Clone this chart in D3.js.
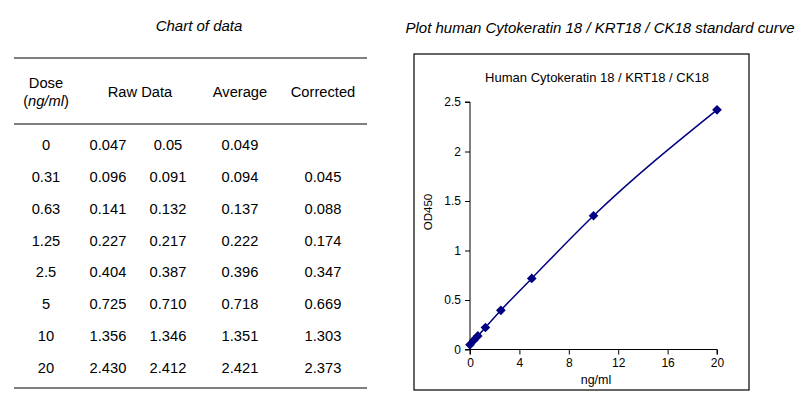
<!DOCTYPE html>
<html>
<head>
<meta charset="utf-8">
<script src="https://cdnjs.cloudflare.com/ajax/libs/d3/7.8.4/d3.min.js"></script>
<style>
  body { margin: 0; background: #fff; }
  svg { font-family: "Liberation Sans", Arial, sans-serif; }
</style>
</head>
<body>
<svg id="chart" width="804" height="407"></svg>
<script>
// Données du tableau
const doses = ["0", "0.31", "0.63", "1.25", "2.5", "5", "10", "20"];
const raw1 = ["0.047", "0.096", "0.141", "0.227", "0.404", "0.725", "1.356", "2.430"];
const raw2 = ["0.05", "0.091", "0.132", "0.217", "0.387", "0.710", "1.346", "2.412"];
const averages = ["0.049", "0.094", "0.137", "0.222", "0.396", "0.718", "1.351", "2.421"];
const corrected = ["", "0.045", "0.088", "0.174", "0.347", "0.669", "1.303", "2.373"];

const xTicks = [0, 4, 8, 12, 16, 20];
const yTicks = [0, 0.5, 1, 1.5, 2, 2.5];

const svg = d3.select("#chart");
const navy = "#000080";

// ---- Tableau ----
svg.append("text")
  .attr("x", 199).attr("y", 31)
  .attr("text-anchor", "middle")
  .attr("font-size", "15px")
  .attr("font-style", "italic")
  .text("Chart of data");

[58, 124, 388].forEach((y) => {
  svg.append("line")
    .attr("x1", 14).attr("x2", 367)
    .attr("y1", y).attr("y2", y)
    .attr("stroke", "#000").attr("stroke-width", 1.2);
});

const head = svg.append("g").attr("font-size", "14.7px").attr("text-anchor", "middle");
head.append("text").attr("x", 46).attr("y", 88).text("Dose");
const unit = head.append("text").attr("x", 46).attr("y", 106);
unit.append("tspan").text("(");
unit.append("tspan").attr("font-style", "italic").text("ng/ml");
unit.append("tspan").text(")");
head.append("text").attr("x", 140).attr("y", 97).text("Raw Data");
head.append("text").attr("x", 240).attr("y", 97).text("Average");
head.append("text").attr("x", 323).attr("y", 97).text("Corrected");

const rowY = d3.scalePoint().domain(doses).range([150, 373]);
const colX = [46, 108, 168, 240, 323];
const cols = [doses, raw1, raw2, averages, corrected];

const body = svg.append("g").attr("font-size", "14.7px").attr("text-anchor", "middle");
cols.forEach((col, c) => {
  body.selectAll(null)
    .data(col)
    .enter()
    .append("text")
    .attr("x", colX[c])
    .attr("y", (d, i) => rowY(doses[i]))
    .text((d) => d);
});

// ---- Graphique ----
svg.append("text")
  .attr("x", 600).attr("y", 33)
  .attr("text-anchor", "middle")
  .attr("font-size", "15px")
  .attr("font-style", "italic")
  .text("Plot human Cytokeratin 18 / KRT18 / CK18 standard curve");

svg.append("rect")
  .attr("x", 414).attr("y", 54)
  .attr("width", 335).attr("height", 336)
  .attr("fill", "none").attr("stroke", "#000").attr("stroke-width", 1.2);

svg.append("text")
  .attr("x", 597).attr("y", 82)
  .attr("text-anchor", "middle")
  .attr("font-size", "13px")
  .text("Human Cytokeratin 18 / KRT18 / CK18");

const xScale = d3.scaleLinear().domain([0, 20]).range([470, 717]);
const yScale = d3.scaleLinear().domain([0, 2.5]).range([349.5, 102]);

svg.append("g")
  .attr("transform", "translate(0,349.5)")
  .call(d3.axisBottom(xScale).tickValues(xTicks).tickSize(5).tickPadding(4).tickFormat(d3.format("")))
  .call((g) => g.selectAll("text").attr("font-size", "12px").attr("fill", "#000"))
  .call((g) => g.select(".domain").attr("d", "M470,5V0H717V5"));

svg.append("g")
  .attr("transform", "translate(470,0)")
  .call(d3.axisLeft(yScale).tickValues(yTicks).tickSize(5).tickPadding(4).tickFormat(d3.format("")))
  .call((g) => g.selectAll("text").attr("font-size", "12px").attr("fill", "#000"))
  .call((g) => g.select(".domain").attr("d", "M-5,102H0V349.5H-5"));

svg.append("text")
  .attr("x", 596).attr("y", 384)
  .attr("text-anchor", "middle")
  .attr("font-size", "12.5px")
  .text("ng/ml");

svg.append("text")
  .attr("transform", "translate(432,212) rotate(-90)")
  .attr("text-anchor", "middle")
  .attr("font-size", "11.5px")
  .text("OD450");

const points = doses.map((d, i) => ({ x: +d, y: +averages[i] }));

const line = d3.line()
  .x((d) => xScale(d.x))
  .y((d) => yScale(d.y))
  .curve(d3.curveMonotoneX);

svg.append("path")
  .datum(points)
  .attr("fill", "none")
  .attr("stroke", navy)
  .attr("stroke-width", 1.5)
  .attr("d", line);

svg.selectAll(".pt")
  .data(points)
  .enter()
  .append("path")
  .attr("class", "pt")
  .attr("transform", (d) => `translate(${xScale(d.x)},${yScale(d.y)})`)
  .attr("d", d3.symbol().type(d3.symbolDiamond2).size(60))
  .attr("fill", navy);
</script>
</body>
</html>
